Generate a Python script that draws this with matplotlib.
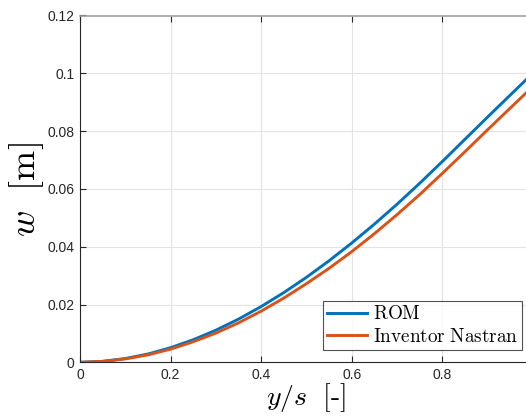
import matplotlib
matplotlib.use("Agg")
import matplotlib.pyplot as plt

x_vals = [0.0, 0.05, 0.1, 0.15, 0.2, 0.25, 0.3, 0.35, 0.4, 0.45, 0.5,
          0.55, 0.6, 0.65, 0.7, 0.75, 0.8, 0.85, 0.9, 0.95, 1.0]
rom = [0.0, 0.00033, 0.00129, 0.00287, 0.00505, 0.00781, 0.01111, 0.01495,
       0.0193, 0.02413, 0.02942, 0.03515, 0.0413, 0.04782, 0.05472, 0.06196,
       0.0695, 0.0772, 0.0849, 0.0925, 0.1001]
nastran = [0.0, 0.00031, 0.00119, 0.00257, 0.00455, 0.00711, 0.01011, 0.01365,
           0.0177, 0.02223, 0.02722, 0.03255, 0.0383, 0.04452, 0.05112, 0.05806,
           0.0654, 0.0729, 0.0805, 0.0880, 0.0955]
xticks = [0, 0.2, 0.4, 0.6, 0.8]
xtick_labels = ["0", "0.2", "0.4", "0.6", "0.8"]
yticks = [0, 0.02, 0.04, 0.06, 0.08, 0.1, 0.12]
ytick_labels = ["0", "0.02", "0.04", "0.06", "0.08", "0.1", "0.12"]
series_names = [r"$\mathrm{ROM}$", r"$\mathrm{Inventor\ Nastran}$"]

plt.rcParams["mathtext.fontset"] = "cm"
W, H = 526, 417
fig = plt.figure(figsize=(W / 100, H / 100), dpi=100)
left, right, top, bottom = 80, 533, 15.5, 362.3
ax = fig.add_axes([left / W, 1 - bottom / H, (right - left) / W, (bottom - top) / H])

ax.plot(x_vals, rom, color="#0072BD", lw=2.1, label=series_names[0])
ax.plot(x_vals, nastran, color="#D95319", lw=2.1, label=series_names[1])

ax.set_xlim(0, 1)
ax.set_ylim(0, 0.12)
ax.set_xticks(xticks)
ax.set_xticklabels(xtick_labels)
ax.set_yticks(yticks)
ax.set_yticklabels(ytick_labels)
ax.grid(True, color="#e3e3e3", lw=0.8)
ax.set_axisbelow(True)
ax.tick_params(direction="in", length=4, width=0.8, colors="#262626",
               labelsize=10, top=True, right=True, pad=4)
for lab in ax.get_xticklabels() + ax.get_yticklabels():
    lab.set_family(["Liberation Sans", "DejaVu Sans"])
for s in ["left", "bottom"]:
    ax.spines[s].set_color("#262626")
    ax.spines[s].set_linewidth(0.8)
ax.spines["top"].set_color("#a0a0a0")
ax.spines["top"].set_linewidth(1.2)
ax.spines["right"].set_color("#262626")

fig.text(306 / W, 1 - 398 / H, r"$y/s\ \ [\text{-}]$", fontsize=20, ha="center", va="center")
fig.text(26 / W, 1 - 190 / H, r"$w\ \ [\mathrm{m}]$", fontsize=26, ha="center", va="center", rotation=90)

leg = ax.legend(loc="lower right", bbox_to_anchor=((522 - left) / (right - left), (bottom - 350) / (bottom - top)),
                prop={"size": 13.8}, frameon=True, fancybox=False,
                edgecolor="#262626", handlelength=2.1, borderpad=0.2, labelspacing=0.2,
                handletextpad=0.3, borderaxespad=0)
leg.get_frame().set_linewidth(0.8)

fig.savefig("out.png", dpi=100)
